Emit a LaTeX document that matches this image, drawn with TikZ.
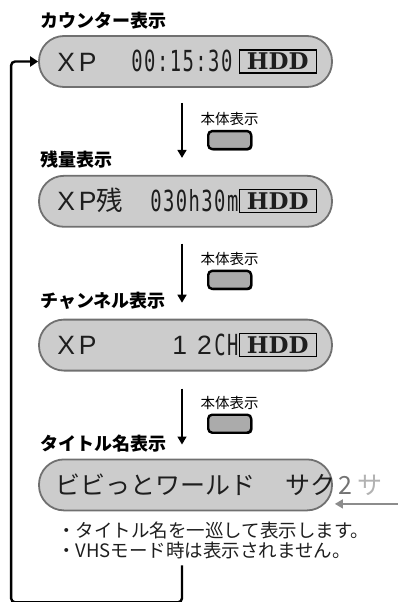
\documentclass[tikz,border=0pt]{standalone}
\usepackage{fontspec}
\usepackage{tikz}
\usetikzlibrary{arrows.meta, positioning, calc, shadows}
\usepackage{xcolor}
\newfontfamily\jpfont{Noto Sans CJK JP}
\newfontfamily\lcdfont[FakeStretch=0.65, LetterSpace=5]{DejaVu Sans Mono}
\newfontfamily\hddfont{DejaVu Serif}
\newfontfamily\dispfont{Liberation Sans}
\definecolor{lcdfill}{HTML}{CCCCCC}
\definecolor{lcdedge}{HTML}{707070}
\definecolor{keyfill}{HTML}{ABABAB}
\definecolor{ink}{HTML}{1E1E1E}
\tikzstyle{display} = [rectangle, rounded corners=25pt, minimum width=293pt, minimum height=51pt, draw=lcdedge, line width=1.8pt, fill=lcdfill]
\tikzstyle{hddbox} = [rectangle, draw=black, line width=1.3pt, minimum width=77pt, minimum height=23pt, inner sep=0pt, text=ink, font=\hddfont\bfseries\fontsize{23}{23}\selectfont]
\tikzstyle{disptext} = [inner sep=0pt, text height=19pt, text depth=0pt, text=ink, font=\dispfont\fontsize{26.5}{26.5}\selectfont]
\tikzstyle{lcdtext} = [inner sep=0pt, text height=20pt, text depth=0pt, text=ink, font=\lcdfont\fontsize{29}{29}\selectfont]
\tikzstyle{scrolltext} = [inner sep=0pt, text=ink, font=\jpfont\fontsize{25}{25}\selectfont]
\tikzstyle{title} = [inner sep=0pt, font=\jpfont\bfseries\fontsize{18}{18}\selectfont]
\tikzstyle{note} = [inner sep=0pt, align=left, text=ink, font=\jpfont\fontsize{18.5}{20.5}\selectfont]
\tikzstyle{keybtn} = [rectangle, rounded corners=4pt, minimum width=43pt, minimum height=18pt, draw=black, line width=2.4pt, fill=keyfill, drop shadow={shadow xshift=1.2pt, shadow yshift=-1.2pt, fill=black, opacity=1}]
\tikzstyle{keylabel} = [inner sep=0pt, font=\jpfont\fontsize{14.5}{14.5}\selectfont]
\tikzstyle{arrow} = [line width=1.6pt, -{Triangle[length=8pt, width=9pt]}]
\tikzstyle{looparrow} = [line width=2.4pt, rounded corners=4pt, -{Triangle[length=8pt, width=10pt]}]
\tikzstyle{scrollarrow} = [line width=1.6pt, draw=black!45, -{Triangle[length=8pt, width=9pt]}]

\begin{document}
\begin{tikzpicture}[x=1pt, y=1pt]
  \useasboundingbox (0,0) rectangle (398,-602);

  \node[display] (disp1) at (185.5,-61.5) {};
  \node[display, below=87pt of disp1] (disp2) {};
  \node[display, below=91pt of disp2] (disp3) {};
  \node[display, below=87pt of disp3] (disp4) {};

  \node[title, above right=6pt and 2pt of disp1.north west] (ttl1) {カウンター表示};
  \node[title, above right=6pt and 2pt of disp2.north west] (ttl2) {残量表示};
  \node[title, above right=9pt and 2pt of disp3.north west] (ttl3) {チャンネル表示};
  \node[title, above right=6pt and 2pt of disp4.north west] (ttl4) {タイトル名表示};

  % counter
  \node[disptext, right=19pt of disp1.west] (mode1) {X\hspace{4pt}P};
  \node[hddbox, left=16pt of disp1.east] (hdd1) {HDD};
  \node[lcdtext, left=6pt of hdd1] (time1) {00:15:30};

  % remaining
  \node[disptext, right=19pt of disp2.west] (mode2) {X\hspace{4pt}P{\jpfont 残}};
  \node[hddbox, left=16pt of disp2.east] (hdd2) {HDD};
  \node[lcdtext, left=0pt of hdd2] (rest2) {030h30m};

  % channel
  \node[disptext, right=19pt of disp3.west] (mode3) {X\hspace{4pt}P};
  \node[hddbox, left=16pt of disp3.east] (hdd3) {HDD};
  \node[lcdtext, left=0pt of hdd3] (ch3) {CH};
  \node[disptext, left=2pt of ch3] (chan3) {1\hspace{10pt}2};

  % title
  \node[scrolltext, right=17pt of disp4.west] (name4) {ビビっとワールド\hspace{30pt}サク};
  \node[scrolltext, right=3pt of name4] (next4) {{\color{black!55}2}\hspace{5pt}{\color{black!30}サ}};
  \node[note, below right=10pt and 19pt of disp4.south west] (notes) {・タイトル名を一巡して表示します。\\・VHSモード時は表示されません。};

  % keys
  \node[keybtn, below right=42pt and 21.5pt of disp1.south] (key1) {};
  \node[keybtn, below right=42pt and 21.5pt of disp2.south] (key2) {};
  \node[keybtn, below right=42pt and 21.5pt of disp3.south] (key3) {};
  \node[keylabel, above=4pt of key1] (keytxt1) {本体表示};
  \node[keylabel, above=4pt of key2] (keytxt2) {本体表示};
  \node[keylabel, above=4pt of key3] (keytxt3) {本体表示};

  \draw[arrow, shorten <=15pt, shorten >=17pt] ([xshift=-3.5pt]disp1.south) -- ([xshift=-3.5pt]disp2.north);
  \draw[arrow, shorten <=16pt, shorten >=16pt] ([xshift=-3.5pt]disp2.south) -- ([xshift=-3.5pt]disp3.north);
  \draw[arrow, shorten <=17pt, shorten >=14pt] ([xshift=-3.5pt]disp3.south) -- ([xshift=-3.5pt]disp4.north);

  \coordinate[below=54pt of disp4.south, xshift=-3.5pt] (back);
  \draw[looparrow] (back) -- ++(0,-37) -| ([xshift=-27pt]disp1.west) -- (disp1.west);

  \coordinate[below right=19pt and 65pt of disp4.east] (scrollin);
  \draw[scrollarrow, shorten >=2pt] (scrollin) -- (scrollin -| disp4.east);
\end{tikzpicture}
\end{document}
